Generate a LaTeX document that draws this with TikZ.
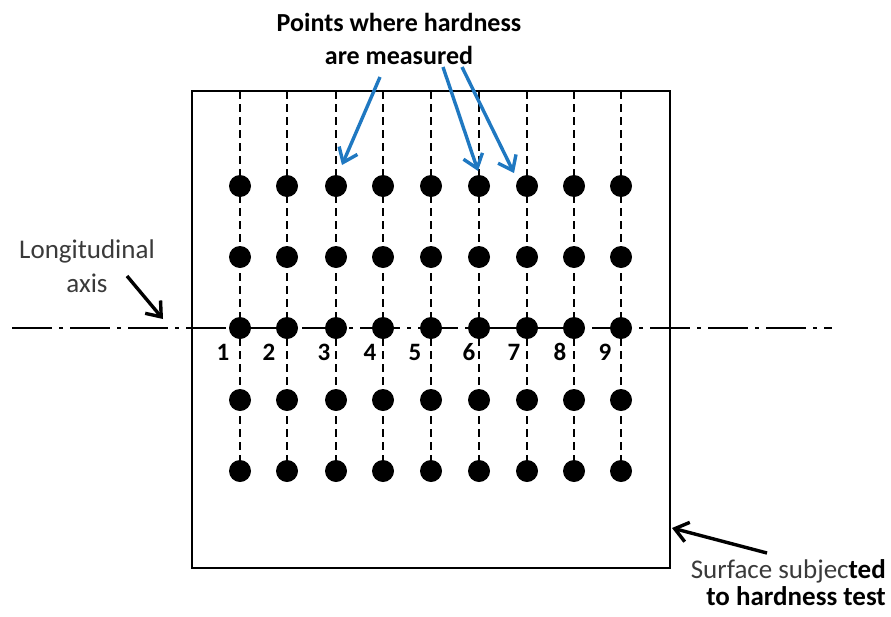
\documentclass[tikz,border=0pt]{standalone}
\usepackage{fontspec}
\setmainfont{Carlito}
\usetikzlibrary{arrows.meta}
\definecolor{arrowblue}{HTML}{1F78C1}
\definecolor{txtgray}{HTML}{3A3A3A}
\tikzset{
  frame/.style={line width=2.8pt},
  grid line/.style={line width=2.4pt, dash pattern=on 8pt off 5pt},
  dot/.style={circle, fill=black, inner sep=0pt, minimum size=22pt},
  axis line/.style={line width=2.2pt, dash pattern=on 40pt off 7pt on 4pt off 7pt},
  blue arrow/.style={arrowblue, line width=3.4pt, -{Straight Barb[length=13pt,width=20pt]}},
  black arrow/.style={black, line width=3.4pt, -{Straight Barb[length=13pt,width=20pt]}},
  num/.style={font=\fontsize{25}{28}\selectfont\bfseries, inner sep=0pt},
  lbl/.style={font=\fontsize{27}{27}\selectfont, text=txtgray, inner sep=0pt, align=center},
}
\begin{document}
\begin{tikzpicture}[x=1pt,y=-1pt]
\useasboundingbox (0,0) rectangle (891,616);
% axis
\coordinate (axL) at (12,328);
\coordinate (axR) at (832,328);
\draw[axis line] (axL) -- (axR);
% frame
\node[frame, draw, minimum width=478pt, minimum height=477pt, inner sep=0pt] (surf) at (431,329.5) {};
% columns and dots
\foreach \i/\x in {1/240,2/287,3/336,4/383,5/431,6/479,7/527,8/574,9/621}{
  \coordinate (top\i) at (\x,91);
  \foreach \j/\y in {1/186,2/257,3/328,4/400,5/471}{
    \node[dot] (d\i\j) at (\x,\y) {};
  }
  \draw[grid line] (top\i) -- (d\i5.center);
}
\foreach \i/\x in {1/223,2/269,3/324,4/370,5/415,6/469,7/514,8/560,9/605}{
  \node[num] (n\i) at (\x,352) {\i};
}
% title
\node[font=\fontsize{26}{33}\selectfont\bfseries, align=center, inner sep=0pt] (title) at (399,39) {Points where hardness\\are measured};
\coordinate (b1s) at (380,77);
\coordinate (b1e) at (342,165);
\coordinate (b2s) at (443,67);
\coordinate (b2e) at (478,171);
\coordinate (b3s) at (462,67);
\coordinate (b3e) at (514,173);
\draw[blue arrow] (b1s) -- (b1e);
\draw[blue arrow] (b2s) -- (b2e);
\draw[blue arrow] (b3s) -- (b3e);
% longitudinal axis label
\node[lbl, font=\fontsize{27}{34}\selectfont] (long) at (87,266) {Longitudinal\\axis};
\coordinate (las) at (127,276);
\coordinate (la) at (163,319);
\draw[black arrow] (las) -- (la);
% surface label
\node[lbl, align=right, anchor=east] (surflbl) at (886,583) {Surface subjec\textbf{\color{black}ted}\\{\color{black}\bfseries to hardness test}};
\coordinate (sas) at (767,553);
\coordinate (sa) at (672,528);
\draw[black arrow] (sas) -- (sa);
\end{tikzpicture}
\end{document}
